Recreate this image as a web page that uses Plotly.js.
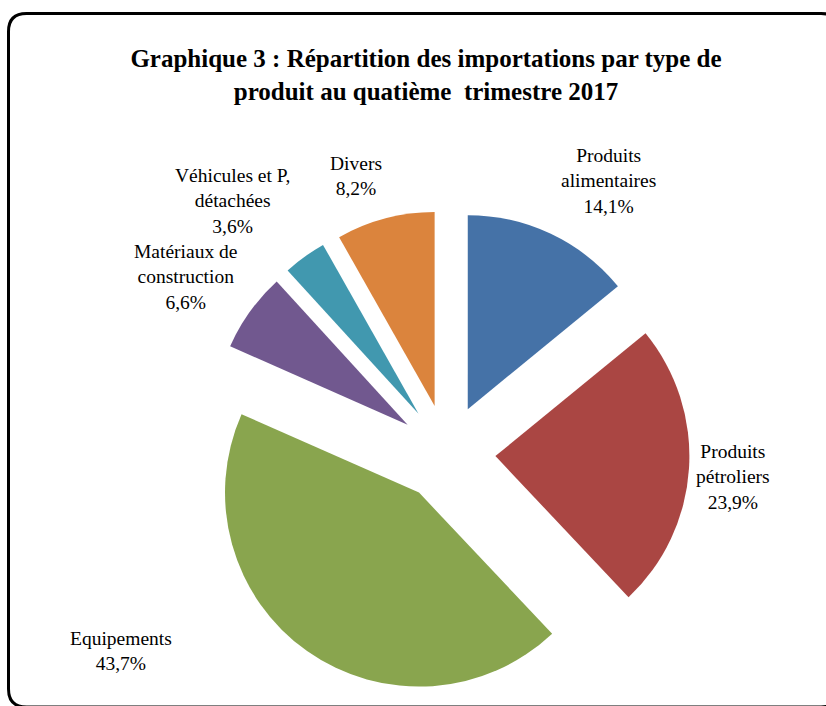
<!DOCTYPE html>
<html>
<head>
<meta charset="utf-8">
<script src="https://cdn.plot.ly/plotly-3.0.1.min.js"></script>
<style>
  html, body { margin: 0; padding: 0; background: #ffffff; }
  #chart { width: 826px; height: 706px; }
</style>
</head>
<body>
<div id="chart"></div>
<script>
// ---- Data ----
const categories = [
  "Produits alimentaires",
  "Produits pétroliers",
  "Equipements",
  "Matériaux de construction",
  "Véhicules et P, détachées",
  "Divers"
];
const labelLines = [
  "Produits<br>alimentaires",
  "Produits<br>pétroliers",
  "Equipements",
  "Matériaux de<br>construction",
  "Véhicules et P,<br>détachées",
  "Divers"
];
const shares = [14.1, 23.9, 43.7, 6.6, 3.6, 8.2];
const chartTitle = "Graphique 3 : Répartition des importations par type de<br>produit au quatième  trimestre 2017";

// ---- Styling / layout (not data) ----
const colors = ["#4572A7", "#AA4643", "#89A54E", "#71588F", "#4198AF", "#DB843D"];
const W = 826, H = 706;
const serif = "Liberation Serif, Times New Roman, serif";
// label centres in pixels
const labelPos = [[608, 181], [733, 477], [121, 651], [185, 277], [232, 201], [356, 176]];

const fx = x => x / W;
const fy = y => 1 - y / H;

const annotations = categories.map((c, i) => ({
  text: labelLines[i] + "<br>" + shares[i].toFixed(1).replace(".", ",") + "%",
  xref: "paper", yref: "paper",
  x: fx(labelPos[i][0]), y: fy(labelPos[i][1]),
  xanchor: "center", yanchor: "middle",
  showarrow: false,
  align: "center",
  font: { family: serif, size: 19.5, color: "#000000" }
}));

// rounded border
const L = 8.5, T = 13.5, R = 839, B = 707, rr = 18;
const borderPath =
  `M ${fx(L)},${fy(T + rr)} L ${fx(L)},${fy(B - rr)} Q ${fx(L)},${fy(B)} ${fx(L + rr)},${fy(B)} ` +
  `L ${fx(R - rr)},${fy(B)} Q ${fx(R)},${fy(B)} ${fx(R)},${fy(B - rr)} ` +
  `L ${fx(R)},${fy(T + rr)} Q ${fx(R)},${fy(T)} ${fx(R - rr)},${fy(T)} ` +
  `L ${fx(L + rr)},${fy(T)} Q ${fx(L)},${fy(T)} ${fx(L)},${fy(T + rr)} Z`;

// pie geometry: centre px, radius px, pull fraction
const cx = 447, cy = 453, rad = 194, pull = 0.25;
const half = rad * (1 + pull);

const trace = {
  type: "pie",
  labels: categories,
  values: shares,
  sort: false,
  direction: "clockwise",
  rotation: 0,
  pull: shares.map(() => pull),
  marker: { colors: colors, line: { width: 0 } },
  textinfo: "none",
  hoverinfo: "label+percent",
  showlegend: false,
  domain: {
    x: [fx(cx - half), fx(cx + half)],
    y: [fy(cy + half), fy(cy - half)]
  }
};

const layout = {
  width: W, height: H,
  margin: { l: 0, r: 0, t: 0, b: 0 },
  paper_bgcolor: "#ffffff",
  plot_bgcolor: "#ffffff",
  showlegend: false,
  title: {
    text: "<b>" + chartTitle + "</b>",
    font: { family: serif, size: 25, color: "#000000" },
    x: fx(426), xanchor: "center",
    y: fy(67), yanchor: "middle",
    xref: "paper", yref: "paper"
  },
  annotations: annotations,
  shapes: [{
    type: "path",
    xref: "paper", yref: "paper",
    path: borderPath,
    line: { color: "#000000", width: 3 },
    fillcolor: "rgba(0,0,0,0)"
  }]
};

Plotly.newPlot("chart", [trace], layout, { displayModeBar: false, staticPlot: true });
</script>
</body>
</html>
